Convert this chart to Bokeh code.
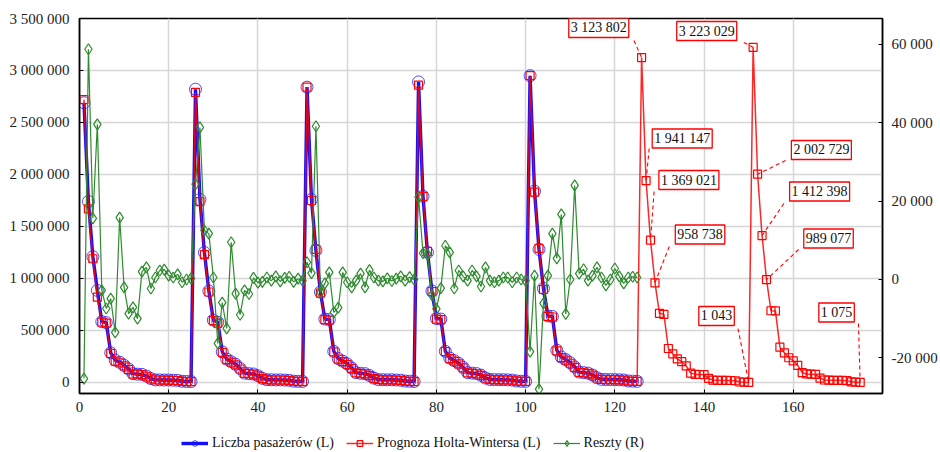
from bokeh.plotting import figure
from bokeh.layouts import column
from bokeh.models import (Range1d, LinearAxis, FixedTicker, CustomJSTickFormatter,
                          Legend, LegendItem, Label)
from bokeh.embed import file_html
from bokeh.resources import INLINE

# ---- observed number of passengers (left axis), one list per 25-step cycle ----
passengers_c1 = [2690000, 1740000, 1210000, 885000, 585000, 575000, 285000, 215000, 195000, 165000,
                 130000, 85000, 80000, 78000, 62000, 38000, 25000, 25000, 24000, 24000,
                 22000, 20000, 12000, 10000, 9000]
passengers_c2 = [2820000, 1760000, 1250000, 880000, 600000, 580000, 295000, 225000, 200000, 175000,
                 135000, 90000, 85000, 82000, 65000, 40000, 27000, 26000, 25000, 25000,
                 23000, 21000, 13000, 11000, 10000]
passengers_c3 = [2840000, 1760000, 1270000, 870000, 610000, 605000, 300000, 230000, 205000, 180000,
                 140000, 95000, 88000, 85000, 68000, 42000, 28000, 27000, 26000, 26000,
                 24000, 22000, 14000, 12000, 10000]
passengers_c4 = [2890000, 1790000, 1250000, 880000, 615000, 610000, 300000, 235000, 210000, 185000,
                 145000, 95000, 90000, 86000, 70000, 43000, 29000, 28000, 27000, 27000,
                 25000, 23000, 15000, 12000, 11000]
passengers_c5 = [2950000, 1840000, 1280000, 905000, 640000, 635000, 310000, 245000, 220000, 190000,
                 150000, 100000, 95000, 90000, 72000, 45000, 30000, 29000, 28000, 28000,
                 26000, 24000, 15000, 13000, 11000]

# ---- Holt-Winters fit / forecast (left axis) ----
forecast_c1 = [2720000, 1670000, 1190000, 820000, 580000, 570000, 280000, 205000, 190000, 160000,
               125000, 80000, 82000, 75000, 60000, 35000, 24000, 24000, 23000, 23000,
               21000, 19000, 11000, 9000, 8000]
forecast_c2 = [2790000, 1740000, 1230000, 870000, 595000, 570000, 290000, 220000, 195000, 170000,
               130000, 88000, 84000, 80000, 63000, 38000, 26000, 25000, 24000, 24000,
               22000, 20000, 12000, 10000, 9000]
forecast_c3 = [2840000, 1750000, 1280000, 860000, 605000, 600000, 295000, 225000, 200000, 175000,
               135000, 92000, 86000, 83000, 66000, 40000, 27000, 26000, 25000, 25000,
               23000, 21000, 13000, 11000, 9000]
forecast_c4 = [2860000, 1790000, 1260000, 875000, 610000, 605000, 298000, 230000, 205000, 180000,
               140000, 93000, 88000, 84000, 68000, 41000, 28000, 27000, 26000, 26000,
               24000, 22000, 14000, 11000, 10000]
forecast_c5 = [2950000, 1830000, 1290000, 895000, 635000, 630000, 305000, 240000, 215000, 185000,
               145000, 98000, 93000, 88000, 70000, 43000, 29000, 28000, 27000, 27000,
               25000, 23000, 14000, 12000, 10000]
forecast_c6 = [3123802, 1941147, 1369021, 958738, 665000, 655000, 327000, 275000, 228000, 200000,
               160000, 90000, 78000, 77000, 75000, 40000, 22000, 21000, 20000, 20000,
               19000, 17000, 5000, 3000, 1043]
forecast_c7 = [3223029, 2002729, 1412398, 989077, 690000, 688000, 340000, 285000, 238000, 208000,
               165000, 95000, 82000, 80000, 78000, 42000, 24000, 22000, 21000, 21000,
               20000, 18000, 6000, 3500, 1075]

# ---- residuals (right axis) ----
residuals_c1 = [-25300, 58750, 15600, 39600, -2800, -7400, -4900, -13500, 15800, -2000,
                -8700, -7100, -10000, 2000, 3100, -2300, 500, 2300, 2500, 1000,
                500, 1300, -700, 0, 300]
residuals_c2 = [24300, 38800, 12500, 11700, 500, -16300, -5900, -12500, 9500, -3600,
                -9000, -2800, -3700, 400, -800, -600, 500, -300, 800, -500,
                400, 700, -600, 200, -300]
residuals_c3 = [4400, 1600, 39100, -3300, -1000, 1800, -8400, -7200, 1800, -700,
                -2000, -300, 1500, -2000, 2400, 500, -300, -500, 300, -400,
                200, 800, -300, 600, 0]
residuals_c4 = [21000, 6700, 6400, -4000, -7500, -2200, 8600, 6900, -2300, 2300,
                800, -300, 2300, 800, -1800, 3100, -300, -700, -300, 500,
                500, -700, 500, 0, -300]
residuals_c5 = [-18400, 1000, -28000, -6100, 1000, 11700, 5400, 16600, -8800, 0,
                24000, 1500, 2600, -300, 1000, 3100, 500, -1500, 0, 2800,
                800, -1000, 500, 700, 500]

x_ticks = [0, 20, 40, 60, 80, 100, 120, 140, 160]
left_ticks = [0, 500000, 1000000, 1500000, 2000000, 2500000, 3000000, 3500000]
right_ticks = [-20000, 0, 20000, 40000, 60000]
labelled_x = [126, 127, 128, 129, 150, 151, 152, 153, 154, 175]
series_names = ["Liczba pasażerów (L)", "Prognoza Holta-Wintersa (L)", "Reszty (R)"]

passengers = passengers_c1 + passengers_c2 + passengers_c3 + passengers_c4 + passengers_c5
forecast = (forecast_c1 + forecast_c2 + forecast_c3 + forecast_c4 + forecast_c5
            + forecast_c6 + forecast_c7)
residuals = residuals_c1 + residuals_c2 + residuals_c3 + residuals_c4 + residuals_c5
x_obs = list(range(1, len(passengers) + 1))
x_fc = list(range(1, len(forecast) + 1))

FONT = "Liberation Serif"
BLUE = "#1010ff"
RED = "#ff0000"
GREEN = "#2e8b2e"

p = figure(width=940, height=420, output_backend="svg", toolbar_location=None,
           x_range=Range1d(0, 180), y_range=Range1d(-105800, 3500000),
           min_border_left=79, min_border_right=56, min_border_top=18, min_border_bottom=27)
p.extra_y_ranges = {"r": Range1d(-29100, 66600)}

fmt = CustomJSTickFormatter(code="""
return Math.round(tick).toString().replace(/\\B(?=(\\d{3})+(?!\\d))/g, " ");
""")

p.xaxis.ticker = FixedTicker(ticks=x_ticks)
p.yaxis.ticker = FixedTicker(ticks=left_ticks)
p.yaxis.formatter = fmt
raxis = LinearAxis(y_range_name="r", ticker=FixedTicker(ticks=right_ticks), formatter=fmt)
p.add_layout(raxis, "right")

for ax in [p.xaxis[0], p.yaxis[0], raxis]:
    ax.axis_line_color = "black"
    ax.axis_line_width = 1.5
    ax.major_tick_in = 4
    ax.major_tick_out = 0
    ax.minor_tick_line_color = None
    ax.major_tick_line_color = "black"
    ax.major_label_text_font = FONT
    ax.major_label_text_font_size = "15px"
    ax.major_label_text_color = "#222222"
p.yaxis[0].major_label_standoff = 10
raxis.major_label_standoff = 9
p.xaxis[0].major_label_standoff = 8

p.outline_line_color = "black"
p.outline_line_width = 1.5
p.xgrid.grid_line_color = "#d6d6d6"
p.ygrid.grid_line_color = "#d6d6d6"
p.xgrid.grid_line_width = 1.5
p.ygrid.grid_line_width = 1.5

blue_line = dict(line_color=BLUE, line_width=3.4)
blue_mark = dict(marker="circle", size=12, fill_color=None, line_color=BLUE, line_width=1,
                 line_alpha=0.75)
red_line = dict(line_color=RED, line_width=1.5, line_alpha=0.85)
red_mark = dict(marker="square", size=8, fill_color=None, line_color=RED, line_width=1.2)
green_line = dict(line_color=GREEN, line_width=1.2)
green_mark = dict(marker="diamond", size=11, fill_color=None, line_color=GREEN, line_width=1.2)

# series
p.line(x_obs, passengers, **blue_line)
p.scatter(x_obs, passengers, **blue_mark)
p.line(x_fc, forecast, **red_line)
p.scatter(x_fc, forecast, **red_mark)
p.line(x_obs, residuals, y_range_name="r", **green_line)
p.scatter(x_obs, residuals, y_range_name="r", **green_mark)

# value labels (box centre and leader start, in data units)
label_layout = {
    126: (116.4, 3408700, 124.3, 3288000),
    151: (140.6, 3379800, 148.9, 3269000),
    127: (135.1, 2346000, 127.7, 2250000),
    128: (136.6, 1947000, 128.8, 1836500),
    129: (139.1, 1423000, 132.2, 1307700),
    150: (142.8, 639400, 147.6, 519000),
    152: (166.3, 2235600, 158.3, 2134600),
    153: (165.9, 1836500, 157.9, 1721000),
    154: (167.9, 1384600, 161.2, 1278800),
    175: (169.7, 673000, 174.6, 567300),
}
for xi in labelled_x:
    val = forecast[xi - 1]
    cx, cy, sx, sy = label_layout[xi]
    p.segment(x0=[sx], y0=[sy], x1=[xi], y1=[val], line_color=RED, line_width=1.1,
              line_dash="4 3")
    txt = format(val, ",").replace(",", " ")
    p.add_layout(Label(x=cx, y=cy, text=txt, text_align="center", text_baseline="middle",
                       text_font=FONT, text_font_size="14px", text_color="#111111",
                       background_fill_color="white", border_line_color=RED,
                       border_line_width=1.3, padding=2))

# legend strip below the chart: the same series, lying outside the strip's view
lg = figure(width=940, height=32, output_backend="svg", toolbar_location=None,
            x_range=Range1d(-1, 0), y_range=Range1d(0, 1),
            x_axis_type=None, y_axis_type=None,
            min_border=0, min_border_left=0, min_border_right=0,
            min_border_top=0, min_border_bottom=0)
lg.grid.visible = False
lg.outline_line_color = None
r1 = [lg.line(x_obs, passengers, **blue_line), lg.scatter(x_obs, passengers, **blue_mark)]
r2 = [lg.line(x_fc, forecast, **red_line), lg.scatter(x_fc, forecast, **red_mark)]
r3 = [lg.line(x_obs, residuals, **green_line), lg.scatter(x_obs, residuals, **green_mark)]
legend = Legend(items=[LegendItem(label=series_names[0], renderers=r1),
                       LegendItem(label=series_names[1], renderers=r2),
                       LegendItem(label=series_names[2], renderers=r3)],
                orientation="horizontal", location=(102, 1), border_line_color=None,
                background_fill_alpha=0, label_text_font=FONT, label_text_font_size="14px",
                label_text_color="#111111", glyph_width=27, glyph_height=14,
                label_standoff=4, spacing=12, padding=2, margin=0)
lg.add_layout(legend, "center")

open("out.html", "w").write(file_html(column(p, lg, spacing=0), INLINE))
